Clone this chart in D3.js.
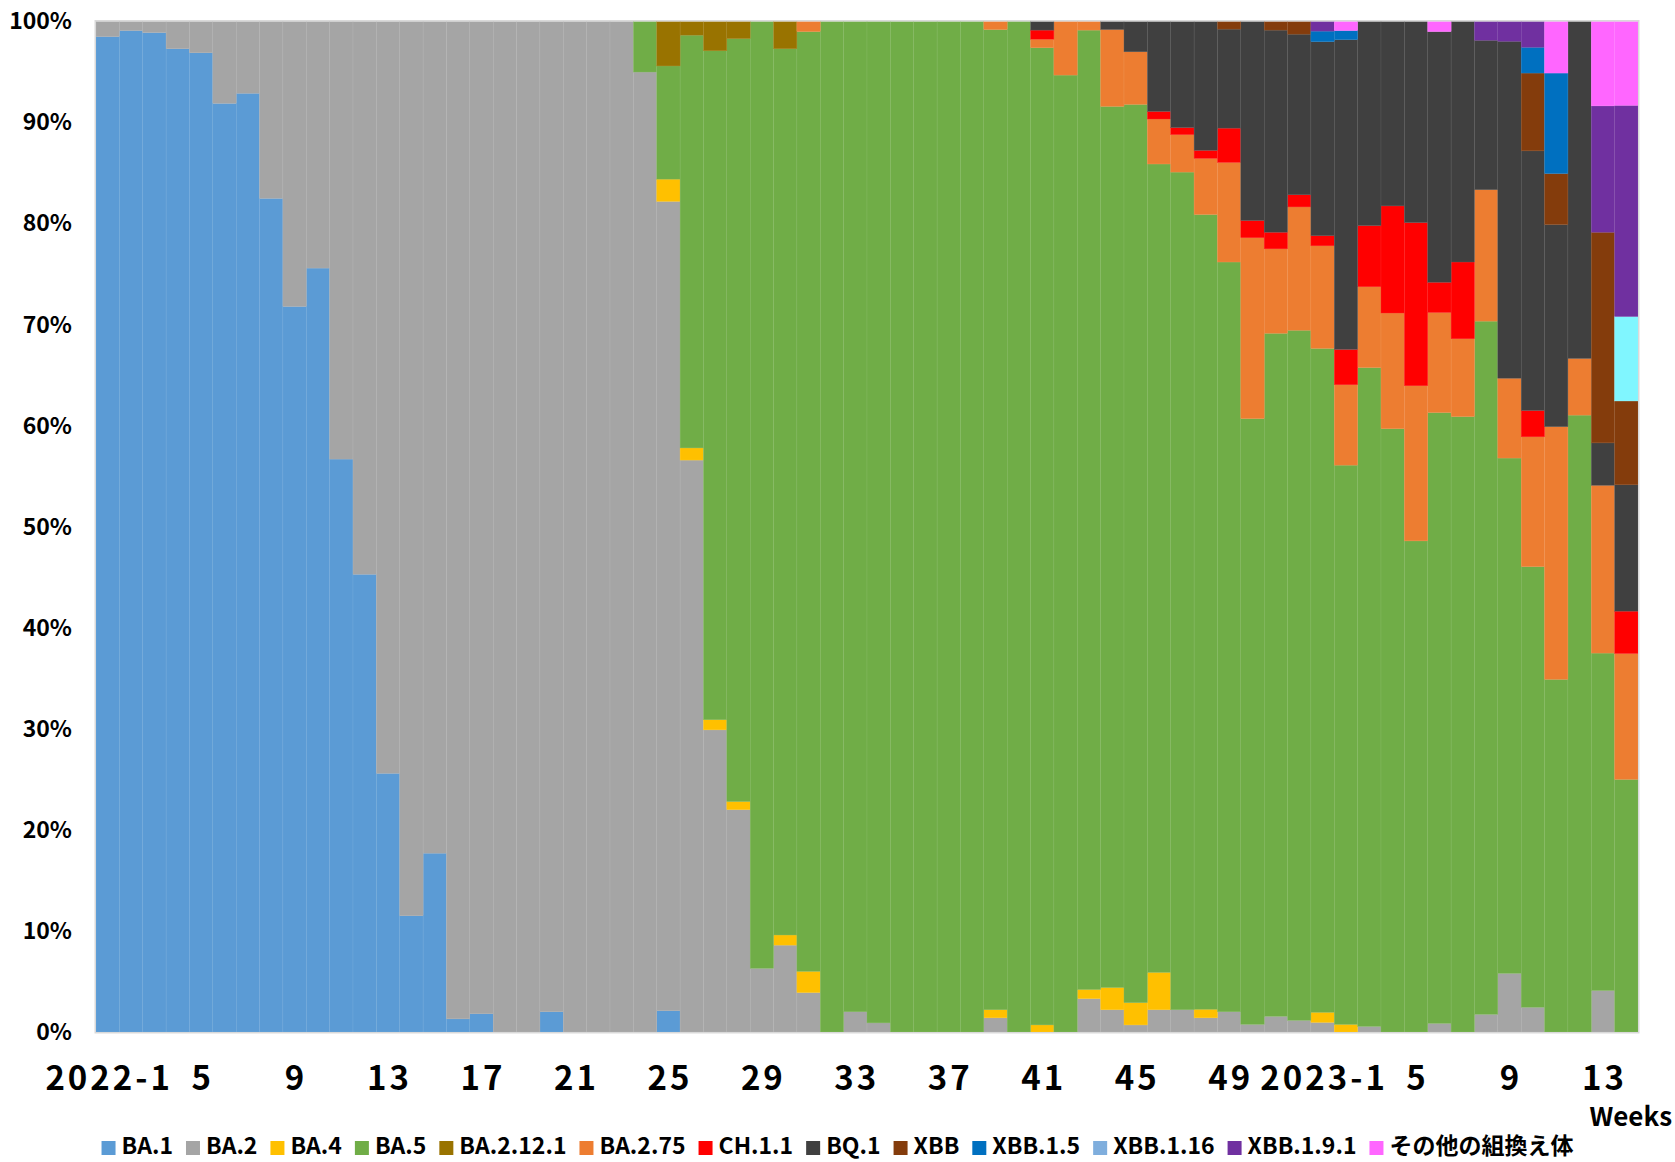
<!DOCTYPE html>
<html lang="ja">
<head>
  <meta charset="UTF-8">
  <title>Variant share by week</title>
  <script src="https://cdn.jsdelivr.net/npm/d3@7"></script>
  <style>
    body { margin: 0; background: #fff; }
    text { font-family: "Noto Sans CJK JP", "Noto Sans", sans-serif; font-weight: bold; fill: #000; }
  </style>
</head>
<body>
<div id="app"></div>
<script>
// weeks 2022-1 .. 2022-52, 2023-1 .. 2023-14 (66 weeks), share in %
const tickLabels = [ "2022-1", "5", "9", "13", "17", "21", "25", "29", "33", "37", "41", "45", "49", "2023-1", "5", "9", "13" ];
const tickIndex = [ 0, 4, 8, 12, 16, 20, 24, 28, 32, 36, 40, 44, 48, 52, 56, 60, 64 ];

const BA1 = [
  98.5, 99.1, 98.9, 97.3, 96.9, 91.9, 92.9, 82.5, 71.8, 75.6,
  56.7, 45.3, 25.6, 11.5, 17.7, 1.3, 1.8, 0, 0, 2.0,
  0, 0, 0, 0, 2.1, 0, 0, 0, 0, 0,
  0, 0, 0, 0, 0, 0, 0, 0, 0, 0,
  0, 0, 0, 0, 0, 0, 0, 0, 0, 0,
  0, 0, 0, 0, 0, 0, 0, 0, 0, 0,
  0, 0, 0, 0, 0, 0
];
const BA2 = [
  1.5, 0.9, 1.1, 2.7, 3.1, 8.1, 7.1, 17.5, 28.2, 24.4,
  43.3, 54.7, 74.4, 88.5, 82.3, 98.7, 98.2, 100, 100, 98.0,
  100, 100, 100, 95, 80.1, 56.6, 29.9, 22.0, 6.3, 8.6,
  3.9, 0, 2.0, 0.9, 0, 0, 0, 0, 1.4, 0,
  0, 0, 3.3, 2.2, 0.7, 2.2, 2.2, 1.4, 2.0, 0.75,
  1.55, 1.15, 0.95, 0, 0.55, 0, 0, 0.85, 0, 1.75,
  5.8, 2.45, 0, 0, 4.1, 0
];
const BA4 = [
  0, 0, 0, 0, 0, 0, 0, 0, 0, 0,
  0, 0, 0, 0, 0, 0, 0, 0, 0, 0,
  0, 0, 0, 0, 2.2, 1.2, 1.0, 0.8, 0, 1.0,
  2.1, 0, 0, 0, 0, 0, 0, 0, 0.8, 0,
  0.7, 0, 0.9, 2.2, 2.2, 3.7, 0, 0.85, 0, 0,
  0, 0, 1.0, 0.75, 0, 0, 0, 0, 0, 0,
  0, 0, 0, 0, 0, 0
];
const BA5 = [
  0, 0, 0, 0, 0, 0, 0, 0, 0, 0,
  0, 0, 0, 0, 0, 0, 0, 0, 0, 0,
  0, 0, 0, 5, 11.2, 40.85, 66.2, 75.5, 93.7, 87.7,
  93.0, 100, 98, 99.1, 100, 100, 100, 100, 97.0, 100,
  96.7, 94.7, 94.95, 87.2, 88.9, 80.0, 82.9, 78.65, 74.2, 59.95,
  67.6, 68.3, 65.7, 55.35, 65.2, 59.7, 48.6, 60.45, 60.9, 68.6,
  51.0, 43.6, 34.9, 61.05, 33.4, 25.0
];
const BA2121 = [
  0, 0, 0, 0, 0, 0, 0, 0, 0, 0,
  0, 0, 0, 0, 0, 0, 0, 0, 0, 0,
  0, 0, 0, 0, 4.4, 1.35, 2.9, 1.7, 0, 2.7,
  0, 0, 0, 0, 0, 0, 0, 0, 0, 0,
  0, 0, 0, 0, 0, 0, 0, 0, 0, 0,
  0, 0, 0, 0, 0, 0, 0, 0, 0, 0,
  0, 0, 0, 0, 0, 0
];
const BA275 = [
  0, 0, 0, 0, 0, 0, 0, 0, 0, 0,
  0, 0, 0, 0, 0, 0, 0, 0, 0, 0,
  0, 0, 0, 0, 0, 0, 0, 0, 0, 0,
  1.0, 0, 0, 0, 0, 0, 0, 0, 0.8, 0,
  0.85, 5.3, 0.85, 7.6, 5.2, 4.45, 3.7, 5.55, 9.85, 17.9,
  8.35, 12.2, 10.15, 7.95, 8.0, 11.45, 15.35, 9.9, 7.7, 13.0,
  7.9, 12.85, 25.0, 5.6, 16.6, 12.45
];
const CH11 = [
  0, 0, 0, 0, 0, 0, 0, 0, 0, 0,
  0, 0, 0, 0, 0, 0, 0, 0, 0, 0,
  0, 0, 0, 0, 0, 0, 0, 0, 0, 0,
  0, 0, 0, 0, 0, 0, 0, 0, 0, 0,
  0.9, 0, 0, 0, 0, 0.75, 0.7, 0.8, 3.4, 1.7,
  1.65, 1.2, 1.0, 3.5, 6.05, 10.6, 16.15, 3.0, 7.6, 0,
  0, 2.6, 0, 0, 0, 4.2
];
const BQ1 = [
  0, 0, 0, 0, 0, 0, 0, 0, 0, 0,
  0, 0, 0, 0, 0, 0, 0, 0, 0, 0,
  0, 0, 0, 0, 0, 0, 0, 0, 0, 0,
  0, 0, 0, 0, 0, 0, 0, 0, 0, 0,
  0.85, 0, 0, 0.8, 3.0, 8.9, 10.5, 12.75, 9.8, 19.7,
  20.0, 15.9, 19.2, 30.65, 20.2, 18.25, 19.9, 24.8, 23.8, 14.8,
  33.35, 25.7, 20.0, 33.35, 4.2, 12.5
];
const XBB = [
  0, 0, 0, 0, 0, 0, 0, 0, 0, 0,
  0, 0, 0, 0, 0, 0, 0, 0, 0, 0,
  0, 0, 0, 0, 0, 0, 0, 0, 0, 0,
  0, 0, 0, 0, 0, 0, 0, 0, 0, 0,
  0, 0, 0, 0, 0, 0, 0, 0, 0.75, 0,
  0.85, 1.25, 0, 0, 0, 0, 0, 0, 0, 0,
  0, 7.7, 5.05, 0, 20.85, 8.3
];
const XBB15 = [
  0, 0, 0, 0, 0, 0, 0, 0, 0, 0,
  0, 0, 0, 0, 0, 0, 0, 0, 0, 0,
  0, 0, 0, 0, 0, 0, 0, 0, 0, 0,
  0, 0, 0, 0, 0, 0, 0, 0, 0, 0,
  0, 0, 0, 0, 0, 0, 0, 0, 0, 0,
  0, 0, 1.05, 0.9, 0, 0, 0, 0, 0, 0,
  0, 2.55, 9.95, 0, 0, 0
];
const XBB116 = [
  0, 0, 0, 0, 0, 0, 0, 0, 0, 0,
  0, 0, 0, 0, 0, 0, 0, 0, 0, 0,
  0, 0, 0, 0, 0, 0, 0, 0, 0, 0,
  0, 0, 0, 0, 0, 0, 0, 0, 0, 0,
  0, 0, 0, 0, 0, 0, 0, 0, 0, 0,
  0, 0, 0, 0, 0, 0, 0, 0, 0, 0,
  0, 0, 0, 0, 0, 8.35
];
const XBB191 = [
  0, 0, 0, 0, 0, 0, 0, 0, 0, 0,
  0, 0, 0, 0, 0, 0, 0, 0, 0, 0,
  0, 0, 0, 0, 0, 0, 0, 0, 0, 0,
  0, 0, 0, 0, 0, 0, 0, 0, 0, 0,
  0, 0, 0, 0, 0, 0, 0, 0, 0, 0,
  0, 0, 0.95, 0, 0, 0, 0, 0, 0, 1.85,
  1.95, 2.55, 0, 0, 12.5, 20.9
];
const OTHER = [
  0, 0, 0, 0, 0, 0, 0, 0, 0, 0,
  0, 0, 0, 0, 0, 0, 0, 0, 0, 0,
  0, 0, 0, 0, 0, 0, 0, 0, 0, 0,
  0, 0, 0, 0, 0, 0, 0, 0, 0, 0,
  0, 0, 0, 0, 0, 0, 0, 0, 0, 0,
  0, 0, 0, 0.9, 0, 0, 0, 1.0, 0, 0,
  0, 0, 5.1, 0, 8.35, 8.3
];

const seriesNames = [ "BA.1", "BA.2", "BA.4", "BA.5", "BA.2.12.1", "BA.2.75", "CH.1.1", "BQ.1", "XBB", "XBB.1.5", "XBB.1.16", "XBB.1.9.1", "その他の組換え体" ];
const seriesValues = [ BA1, BA2, BA4, BA5, BA2121, BA275, CH11, BQ1, XBB, XBB15, XBB116, XBB191, OTHER ];
const barColors = [ "#5B9BD5", "#A5A5A5", "#FFC000", "#70AD47", "#997300", "#ED7D31", "#FF0000", "#404040", "#843C0C", "#0070C0", "#80F6FF", "#7030A0", "#FF66FF" ];
const legendColors = [ "#5B9BD5", "#A5A5A5", "#FFC000", "#70AD47", "#997300", "#ED7D31", "#FF0000", "#404040", "#843C0C", "#0070C0", "#7FAEDD", "#7030A0", "#FF66FF" ];

const W = 1675, H = 1162;
const margin = { top: 21.5, right: 37, bottom: 130, left: 96 };

// one row per week for d3.stack
const rows = BA1.map((_, i) => {
  let r = { i };
  seriesNames.forEach((n, k) => { r[n] = seriesValues[k][i]; });
  return r;
});

const stacked = d3.stack()
  .keys(seriesNames)
  .offset(d3.stackOffsetExpand)(rows);

const x = d3.scaleBand()
  .domain(rows.map(d => d.i))
  .range([ margin.left, W - margin.right ])
  .padding(0);

const y = d3.scaleLinear()
  .domain([ 0, 1 ])
  .range([ H - margin.bottom, margin.top ]);

const svg = d3.select("#app").append("svg")
  .attr("width", W)
  .attr("height", H);

const barG = svg.append("g");

barG.selectAll("g")
  .data(stacked)
  .join("g")
  .attr("fill", (d, k) => barColors[k])
  .attr("stroke", (d, k) => d3.interpolateRgb(barColors[k], "#ffffff")(0.15))
  .attr("stroke-width", 0.4)
  .selectAll("rect")
  .data(d => d.filter(s => s[1] - s[0] > 0))
  .join("rect")
  .attr("x", d => x(d.data.i))
  .attr("width", x.bandwidth())
  .attr("y", d => y(d[1]))
  .attr("height", d => y(d[0]) - y(d[1]));

// plot area border
svg.append("rect")
  .attr("x", margin.left - 0.75)
  .attr("y", margin.top - 0.75)
  .attr("width", W - margin.right - margin.left + 1.5)
  .attr("height", y(0) - y(1) + 1.5)
  .attr("fill", "none")
  .attr("stroke", "#D9D9D9")
  .attr("stroke-width", 1.5);

// y axis
const yAxisG = svg.append("g")
  .attr("transform", `translate(${margin.left},0)`)
  .call(d3.axisLeft(y).tickValues(d3.range(0, 1.01, 0.1)).tickFormat(d3.format(".0%")).tickSize(0).tickPadding(24));
yAxisG.select(".domain").remove();
yAxisG.selectAll("text")
  .attr("font-size", 23)
  .attr("font-family", null);

// x axis
const xAxisG = svg.append("g")
  .attr("transform", `translate(0,${y(0)})`)
  .call(d3.axisBottom(x).tickValues(tickIndex).tickFormat((d, i) => tickLabels[i]).tickSize(0));
xAxisG.select(".domain").remove();
xAxisG.selectAll("text")
  .attr("font-size", 33)
  .attr("font-family", null)
  .attr("y", 58)
  .attr("dy", 0)
  .attr("letter-spacing", 3)
  .attr("dx", 1.5);

svg.append("text")
  .attr("x", 1672)
  .attr("y", 1126)
  .attr("text-anchor", "end")
  .attr("font-size", 26)
  .text("Weeks");

// legend
const legendG = svg.append("g");
const items = legendG.selectAll("g")
  .data(seriesNames)
  .join("g");
items.append("rect")
  .attr("width", 14)
  .attr("height", 14)
  .attr("y", 1141)
  .attr("fill", (d, k) => legendColors[k]);
items.append("text")
  .attr("x", 20)
  .attr("y", 1154)
  .attr("font-size", 23)
  .text(d => d);

let pos = 0;
const gap = 13;
items.each(function () {
  const g = d3.select(this);
  g.attr("transform", `translate(${pos},0)`);
  pos += 20 + g.select("text").node().getComputedTextLength() + gap;
});
const total = pos - gap;
legendG.attr("transform", `translate(${(W - total) / 2},0)`);
</script>
</body>
</html>
